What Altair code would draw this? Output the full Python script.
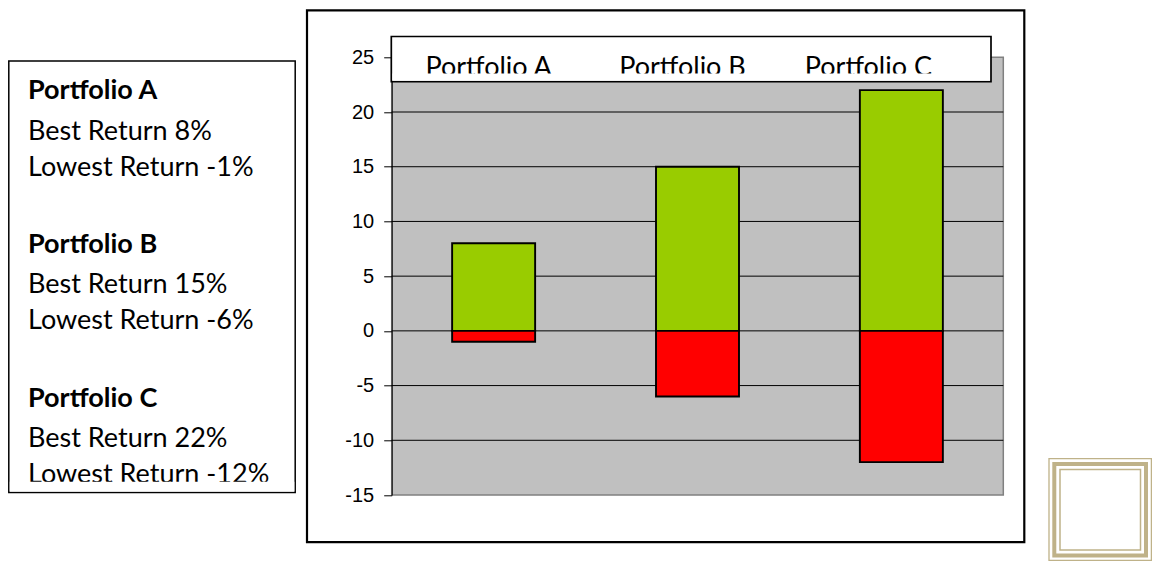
import altair as alt
import pandas as pd

# ---------------- data ----------------
portfolios = ["Portfolio A", "Portfolio B", "Portfolio C"]
best_returns = [8, 15, 22]
lowest_returns = [-1, -6, -12]
y_ticks = [-15, -10, -5, 0, 5, 10, 15, 20, 25]
grid_values = [-10, -5, 0, 5, 10, 15, 20]
y_domain = [-15, 25]

# ---------------- layout (page pixels) ----------------
OX, OY = 391.7, 57.3          # page position of plot origin
PW, PH = 611.6, 437.7         # plot area size
PAD_L, PAD_T = OX - 8, OY - 8
TOTAL_W, TOTAL_H = 1144, 553


def px(x):
    return x - OX


def py(y):
    return y - OY


bars_df = pd.DataFrame({"portfolio": portfolios, "best": best_returns, "lowest": lowest_returns})
grid_df = pd.DataFrame({"v": grid_values})
one = pd.DataFrame({"k": [0]})

x_scale = alt.Scale(domain=portfolios, paddingInner=0, paddingOuter=0)
y_scale = alt.Scale(domain=y_domain, nice=False, zero=False)
y_axis = alt.Axis(
    values=y_ticks, grid=False, tickSize=8, tickColor="black", tickWidth=1,
    domainColor="black", domainWidth=1, labelFont="Liberation Sans",
    labelFontSize=20, labelColor="black", labelPadding=10, title=None,
    labelExpr="toString(datum.value)",
)


def box(x1, y1, x2, y2, stroke="black", sw=1.5, fill="white", fill_opacity=1.0):
    return alt.Chart(one).mark_rect(
        fill=fill, fillOpacity=fill_opacity, stroke=stroke, strokeWidth=sw
    ).encode(
        x=alt.value(px(x1)), x2=alt.value(px(x2)),
        y=alt.value(py(y1)), y2=alt.value(py(y2)),
    )


layers = []

# outer chart frame and left info box
layers.append(box(307, 10.3, 1024.3, 542.2, sw=2.2, fill_opacity=0))
layers.append(box(8.8, 61, 295.2, 492.5, sw=1.5))

# gridlines + y axis
grid = alt.Chart(grid_df).mark_rule(color="black", strokeWidth=1).encode(
    y=alt.Y("v:Q", scale=y_scale, axis=y_axis)
)
layers.append(grid)

# bars
green = alt.Chart(bars_df).mark_bar(size=83, color="#99CC00", stroke="black", strokeWidth=1.9).encode(
    x=alt.X("portfolio:N", scale=x_scale, axis=None),
    y=alt.Y("best:Q", scale=y_scale, axis=y_axis),
    y2=alt.datum(0),
)
red = alt.Chart(bars_df).mark_bar(size=83, color="#FF0000", stroke="black", strokeWidth=1.9).encode(
    x=alt.X("portfolio:N", scale=x_scale, axis=None),
    y=alt.Y("lowest:Q", scale=y_scale, axis=y_axis),
    y2=alt.datum(0),
)
layers += [green, red]

# header (legend-like) box with category names
layers.append(box(391.3, 36.5, 991, 81.7, sw=1.7))
header_dx = [-5, -15, -33]
for i, p in enumerate(portfolios):
    layers.append(
        alt.Chart(bars_df[bars_df.portfolio == p]).mark_text(
            font="Lato", fontSize=27, align="center", baseline="alphabetic",
            color="black", dx=header_dx[i],
        ).encode(
            x=alt.X("portfolio:N", scale=x_scale, axis=None),
            y=alt.value(py(75.5)),
            text="portfolio:N",
        )
    )
layers.append(box(392.5, 73.5, 990, 80.8, stroke="white", sw=0))

# left info box text, built from the data arrays
group_base = [99.3, 252.7, 406.7]
for i, p in enumerate(portfolios):
    lines = [
        (p, "bold", 0),
        (f"Best Return {best_returns[i]}%", "normal", 40.7),
        (f"Lowest Return {lowest_returns[i]}%", "normal", 76.7),
    ]
    for txt, weight, off in lines:
        layers.append(
            alt.Chart(one).mark_text(
                font="Lato", fontSize=27, fontWeight=weight, align="left",
                baseline="alphabetic", color="black", text=txt,
            ).encode(x=alt.value(px(28)), y=alt.value(py(group_base[i] + off)))
        )
layers.append(box(9.8, 481.7, 294.3, 491.6, stroke="white", sw=0))

# decorative frame bottom-right (fitted inside the visible page area)
tan = "#BFB289"
layers.append(box(1049, 458.7, 1151.4, 560.3, stroke=tan, sw=1.3, fill_opacity=0))
layers.append(box(1054.3, 464, 1146, 555.5, stroke=tan, sw=4, fill_opacity=0))
layers.append(box(1060, 469.5, 1140.5, 550, stroke=tan, sw=1.5, fill_opacity=0))

chart = alt.layer(*layers).properties(
    width=PW,
    height=PH,
    autosize=alt.AutoSizeParams(type="none"),
    padding={"left": PAD_L, "top": PAD_T, "right": TOTAL_W - PAD_L - PW, "bottom": TOTAL_H - PAD_T - PH},
    background="white",
).configure_view(
    fill="#C0C0C0", stroke="#808080", strokeWidth=1.5
).configure_axis(
    labelFont="Liberation Sans", labelFontSize=20, labelColor="black"
)

chart.save("out.html", embed_options={"renderer": "svg", "actions": False})
